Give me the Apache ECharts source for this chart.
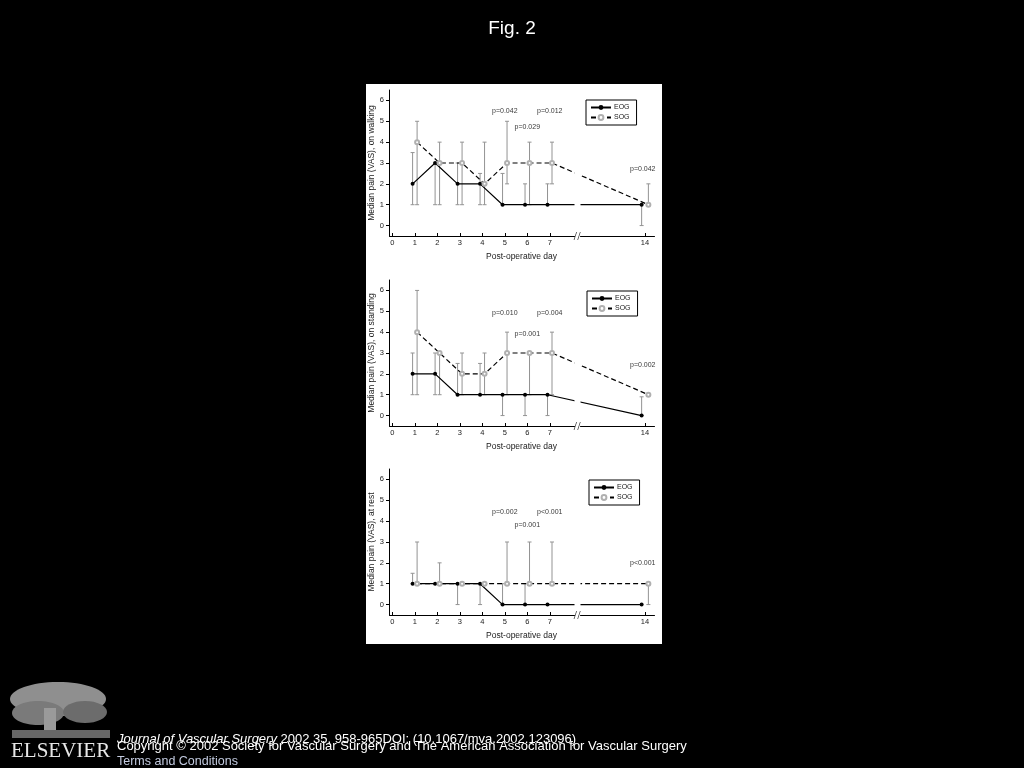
<!DOCTYPE html>
<html>
  <head>
    <meta charset="utf-8" />
    <title>Fig. 2</title>
    <script src="https://cdn.jsdelivr.net/npm/echarts@6.0.0/dist/echarts.min.js"></script>
    <style>
      body {
        margin: 0;
        padding: 0;
        background: #000;
      }
      #main {
        width: 1024px;
        height: 768px;
      }
    </style>
  </head>
  <body>
    <div id="main"></div>
    <script type="text/javascript">
      // ticks
      var dayTicks = [0, 1, 2, 3, 4, 5, 6, 7, 14];
      var painTicks = [0, 1, 2, 3, 4, 5, 6];
      // EOG points sit just left of the day, SOG just right
      var eogDays = [0.9, 1.9, 2.9, 3.9, 4.9, 5.9, 6.9, 13.85];
      var sogDays = [1.1, 2.1, 3.1, 4.1, 5.1, 6.1, 7.1, 14.15];

      // on walking
      var walkEog = [2, 3, 2, 2, 1, 1, 1, 1];
      var walkEogLow = [1, 1, 1, 1, 1, 1, 1, 0];
      var walkEogHigh = [3.5, 3, 3, 2.5, 2.5, 2, 2, 1];
      var walkSog = [4, 3, 3, 2, 3, 3, 3, 1];
      var walkSogLow = [1, 1, 1, 1, 2, 1, 2, 1];
      var walkSogHigh = [5, 4, 4, 4, 5, 4, 4, 2];

      // on standing
      var standEog = [2, 2, 1, 1, 1, 1, 1, 0];
      var standEogLow = [1, 1, 1, 1, 0, 0, 0, 0];
      var standEogHigh = [3, 3, 2.5, 2.5, 1, 1, 1, 0.9];
      var standSog = [4, 3, 2, 2, 3, 3, 3, 1];
      var standSogLow = [1, 1, 1, 1, 1, 1, 1, null];
      var standSogHigh = [6, 3, 3, 3, 4, 3, 4, null];

      // at rest
      var restEog = [1, 1, 1, 1, 0, 0, 0, 0];
      var restEogLow = [1, null, 0, 0, 0, 0, null, null];
      var restEogHigh = [1.5, null, 1, 1, 1, 1, null, null];
      var restSog = [1, 1, 1, 1, 1, 1, 1, 1];
      var restSogLow = [1, 1, null, null, 1, 1, 1, 0];
      var restSogHigh = [3, 2, null, null, 3, 3, 3, 1];

      // p values
      var pDays = [5, 6, 7, 13.9];
      var walkP = ["p=0.042", "p=0.029", "p=0.012", "p=0.042"];
      var standP = ["p=0.010", "p=0.001", "p=0.004", "p=0.002"];
      var restP = ["p=0.002", "p=0.001", "p<0.001", "p<0.001"];

      var yNames = [
        "Median pain (VAS), on walking",
        "Median pain (VAS), on standing",
        "Median pain (VAS), at rest",
      ];

      // layout
      var gridTops = [90, 280, 469];
      var legendPos = [
        [586, 100],
        [587, 291],
        [589, 480],
      ];
      var pLabelY = [
        [5.5, 4.7, 5.5, 2.7],
        [4.9, 3.9, 4.9, 2.4],
        [4.45, 3.8, 4.45, 1.97],
      ];
      var breakStart = 8.1;
      var breakEnd = 11.1;
      var font = "Liberation Sans";
      var ink = "#1a1a1a";

      var panels = [
        [walkEog, walkEogLow, walkEogHigh, walkSog, walkSogLow, walkSogHigh, walkP],
        [standEog, standEogLow, standEogHigh, standSog, standSogLow, standSogHigh, standP],
        [restEog, restEogLow, restEogHigh, restSog, restSogLow, restSogHigh, restP],
      ];

      function zip(xs, ys) {
        return xs.map(function (x, i) {
          return [x, ys[i]];
        });
      }

      function bars(xs, lo, hi) {
        var out = [];
        xs.forEach(function (x, i) {
          if (lo[i] != null && hi[i] != null) out.push([x, lo[i], hi[i]]);
        });
        return out;
      }

      function renderBar(params, api) {
        var x = api.value(0);
        var a = api.coord([x, api.value(1)]);
        var b = api.coord([x, api.value(2)]);
        var w = 2;
        var st = { stroke: "#939393", lineWidth: 1 };
        return {
          type: "group",
          children: [
            { type: "line", shape: { x1: a[0], y1: a[1], x2: b[0], y2: b[1] }, style: st },
            { type: "line", shape: { x1: a[0] - w, y1: a[1], x2: a[0] + w, y2: a[1] }, style: st },
            { type: "line", shape: { x1: b[0] - w, y1: b[1], x2: b[0] + w, y2: b[1] }, style: st },
          ],
        };
      }

      var grids = [];
      var xAxes = [];
      var yAxes = [];
      var legends = [];
      var series = [];

      panels.forEach(function (p, k) {
        grids.push({ left: 389, top: gridTops[k], width: 265, height: 146 });
        xAxes.push({
          gridIndex: k,
          type: "value",
          min: -0.15,
          max: 14.4,
          breaks: [{ start: breakStart, end: breakEnd, gap: "2%" }],
          breakArea: {
            show: true,
            expandOnClick: false,
            zigzagAmplitude: 0,
            itemStyle: { color: "#fff", borderColor: "rgba(0,0,0,0)", borderWidth: 0, opacity: 1 },
          },
          name: "Post-operative day",
          nameLocation: "middle",
          nameGap: 16,
          nameTextStyle: { fontSize: 8.5, color: ink, fontFamily: font },
          axisLine: { onZero: false, lineStyle: { color: "#000", width: 1 } },
          axisTick: { inside: true, length: 3, customValues: dayTicks, lineStyle: { color: "#000" } },
          axisLabel: { customValues: dayTicks, fontSize: 7.5, margin: 3, color: ink, fontFamily: font },
          splitLine: { show: false },
        });
        yAxes.push({
          gridIndex: k,
          type: "value",
          min: -0.5,
          max: 6.5,
          name: yNames[k],
          nameLocation: "middle",
          nameGap: 12,
          nameTextStyle: { fontSize: 8.5, color: ink, fontFamily: font },
          axisLine: { show: true, onZero: false, lineStyle: { color: "#000", width: 1 } },
          axisTick: { show: true, length: 3, customValues: painTicks, lineStyle: { color: "#000" } },
          axisLabel: { customValues: painTicks, fontSize: 7.5, margin: 5, color: ink, fontFamily: font },
          splitLine: { show: false },
        });
        legends.push({
          left: legendPos[k][0],
          top: legendPos[k][1],
          orient: "vertical",
          selectedMode: false,
          borderColor: "#000",
          borderWidth: 1,
          borderRadius: 0,
          padding: [4, 7, 4, 4],
          itemWidth: 20,
          itemHeight: 6,
          itemGap: 3,
          textStyle: { fontSize: 7, lineHeight: 6, color: ink, fontFamily: font, padding: [0, 0, 0, -2] },
          data: ["EOG", "SOG"],
        });

        series.push(
          {
            type: "custom",
            xAxisIndex: k,
            yAxisIndex: k,
            renderItem: renderBar,
            encode: { x: 0, y: [1, 2] },
            data: bars(eogDays, p[1], p[2]),
            silent: true,
            z: 1,
          },
          {
            type: "custom",
            xAxisIndex: k,
            yAxisIndex: k,
            renderItem: renderBar,
            encode: { x: 0, y: [1, 2] },
            data: bars(sogDays, p[4], p[5]),
            silent: true,
            z: 1,
          },
          {
            name: "EOG",
            type: "line",
            xAxisIndex: k,
            yAxisIndex: k,
            data: zip(eogDays, p[0]),
            symbol: "circle",
            symbolSize: 4,
            itemStyle: { color: "#000" },
            lineStyle: { color: "#000", width: 1.2 },
            silent: true,
            z: 3,
          },
          {
            name: "SOG",
            type: "line",
            xAxisIndex: k,
            yAxisIndex: k,
            data: zip(sogDays, p[3]),
            symbol: "emptyCircle",
            symbolSize: 4,
            itemStyle: { color: "#b0b0b0", borderWidth: 1 },
            lineStyle: { color: "#000", width: 1.2, type: [5, 3] },
            silent: true,
            z: 3,
          },
          {
            type: "scatter",
            xAxisIndex: k,
            yAxisIndex: k,
            symbolSize: 0,
            silent: true,
            data: pDays.map(function (d, i) {
              return { value: [d, pLabelY[k][i]], name: p[6][i] };
            }),
            label: {
              show: true,
              position: "inside",
              formatter: "{b}",
              fontSize: 7,
              color: "#000",
              fontFamily: font,
            },
            z: 4,
          },
          {
            type: "scatter",
            xAxisIndex: k,
            yAxisIndex: k,
            symbol: "path://M0,10 L3,0 L3.8,0 L0.8,10 Z M4.2,10 L7.2,0 L8,0 L5,10 Z",
            symbolSize: [7, 8],
            itemStyle: { color: "#000" },
            silent: true,
            data: [[(breakStart + breakEnd) / 2, -0.5]],
            z: 200,
          }
        );
      });

      var myChart = echarts.init(document.getElementById("main"));
      var option = {
        backgroundColor: "#000",
        animation: false,
        title: {
          text: "Fig. 2",
          left: "center",
          top: 14,
          textStyle: { color: "#fff", fontSize: 19, fontWeight: "normal", fontFamily: font },
        },
        grid: grids,
        xAxis: xAxes,
        yAxis: yAxes,
        legend: legends,
        series: series,
        graphic: {
          elements: [
            {
              type: "rect",
              z: -100,
              shape: { x: 366, y: 84, width: 296, height: 560 },
              style: { fill: "#fff" },
              silent: true,
            },
            // publisher logo (tree drawn loosely)
            {
              type: "group",
              z: -50,
              silent: true,
              children: [
                { type: "ellipse", shape: { cx: 58, cy: 699, rx: 48, ry: 17 }, style: { fill: "#8f8f8f" } },
                { type: "ellipse", shape: { cx: 38, cy: 713, rx: 26, ry: 12 }, style: { fill: "#7a7a7a" } },
                { type: "ellipse", shape: { cx: 85, cy: 712, rx: 22, ry: 11 }, style: { fill: "#6c6c6c" } },
                { type: "rect", shape: { x: 44, y: 708, width: 12, height: 26 }, style: { fill: "#9a9a9a" } },
                { type: "rect", shape: { x: 12, y: 730, width: 98, height: 8 }, style: { fill: "#666" } },
              ],
            },
            {
              type: "text",
              silent: true,
              style: {
                x: 11,
                y: 751,
                text: "ELSEVIER",
                verticalAlign: "middle",
                font: "21px 'Liberation Serif'",
                fill: "#e6e6e6",
              },
            },
            {
              type: "text",
              silent: true,
              style: {
                x: 117,
                y: 739,
                text: "{i|Journal of Vascular Surgery} 2002 35, 958-965DOI: (10.1067/mva.2002.123096)",
                verticalAlign: "middle",
                font: "13px 'Liberation Sans'",
                fill: "#fff",
                rich: { i: { fontStyle: "italic", fontSize: 13, fontFamily: font, fill: "#fff" } },
              },
            },
            {
              type: "text",
              silent: true,
              style: {
                x: 117,
                y: 746,
                text: "Copyright © 2002 Society for Vascular Surgery and The American Association for Vascular Surgery",
                verticalAlign: "middle",
                font: "13px 'Liberation Sans'",
                fill: "#fff",
              },
            },
            {
              type: "text",
              silent: true,
              style: {
                x: 117,
                y: 762,
                text: "Terms and Conditions",
                verticalAlign: "middle",
                font: "12.5px 'Liberation Sans'",
                fill: "#c3cbe0",
              },
            },
          ],
        },
      };
      myChart.setOption(option);
    </script>
  </body>
</html>
